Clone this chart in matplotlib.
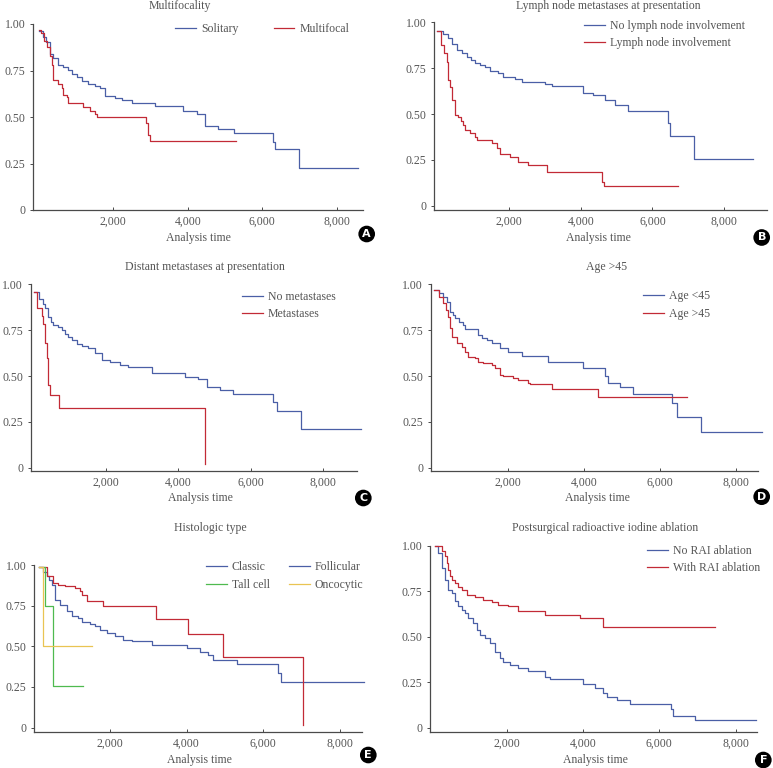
import matplotlib
matplotlib.use("Agg")
import matplotlib.pyplot as plt
from matplotlib.lines import Line2D
from matplotlib.ticker import FuncFormatter

plt.rcParams["font.family"] = ["Liberation Serif", "DejaVu Serif"]
plt.rcParams["font.size"] = 8.5

BLUE = "#4a5fa6"
RED = "#c22a36"
GREEN = "#4fba4f"
YELLOW = "#e9c452"
TXT = "#555555"
AX = "#4a4a4a"

# ---- data: Kaplan-Meier steps (time, survival after that time) ----
# A  Multifocality
solitary_t = [0, 117, 200, 296, 310, 386, 520, 655, 789, 879, 1013, 1148, 1327, 1507, 1650, 1776,
              2045, 2224, 2493, 3121, 3883, 4242, 4466, 4825, 5229, 6287, 6350, 6978, 8574]
solitary_s = [0.96, 0.93, 0.905, 0.887, 0.84, 0.815, 0.78, 0.77, 0.753, 0.73, 0.717, 0.695, 0.68,
              0.667, 0.655, 0.613, 0.60, 0.59, 0.573, 0.559, 0.534, 0.516, 0.452, 0.435, 0.416,
              0.367, 0.326, 0.224, 0.224]
multifocal_t = [0, 60, 130, 206, 296, 359, 386, 520, 610, 655, 744, 789, 1013, 1193, 1372, 1507,
                1552, 2870, 2924, 2942, 2987, 5291]
multifocal_s = [0.968, 0.95, 0.91, 0.878, 0.828, 0.78, 0.70, 0.68, 0.654, 0.618, 0.606, 0.577,
                0.573, 0.556, 0.534, 0.516, 0.502, 0.466, 0.462, 0.403, 0.371, 0.371]

# B  Lymph node metastases
no_ln_t = [0, 150, 307, 420, 540, 700, 819, 940, 1051, 1200, 1330, 1470, 1702, 1842, 2167, 2353,
           3005, 3191, 4056, 4353, 4679, 4958, 5330, 6428, 6493, 7163, 8800]
no_ln_s = [0.955, 0.935, 0.913, 0.88, 0.849, 0.835, 0.81, 0.795, 0.776, 0.765, 0.758, 0.735,
           0.722, 0.704, 0.689, 0.676, 0.664, 0.653, 0.616, 0.604, 0.576, 0.549, 0.516, 0.453,
           0.38, 0.253, 0.253]
ln_t = [0, 102, 195, 260, 307, 353, 400, 493, 586, 650, 726, 772, 912, 1051, 1098, 1516, 1656,
        1749, 2028, 2260, 2540, 3051, 4605, 4651, 6707]
ln_s = [0.955, 0.876, 0.831, 0.785, 0.685, 0.649, 0.576, 0.495, 0.482, 0.46, 0.44, 0.413, 0.395,
        0.376, 0.358, 0.34, 0.313, 0.282, 0.264, 0.24, 0.222, 0.185, 0.131, 0.107, 0.107]

# C  Distant metastases
no_met_t = [0, 150, 250, 313, 406, 470, 544, 660, 774, 860, 959, 1051, 1200, 1327, 1512, 1696,
            1880, 2111, 2387, 2618, 3263, 4184, 4553, 4783, 5152, 5521, 6608, 6719, 7382, 9051]
no_met_s = [0.96, 0.92, 0.89, 0.869, 0.824, 0.795, 0.778, 0.765, 0.751, 0.73, 0.715, 0.696,
            0.675, 0.664, 0.651, 0.627, 0.587, 0.578, 0.56, 0.551, 0.515, 0.493, 0.482, 0.442,
            0.424, 0.402, 0.36, 0.309, 0.209, 0.209]
met_t = [0, 101, 221, 267, 313, 359, 387, 406, 452, 710, 4737]
met_s = [0.96, 0.869, 0.827, 0.784, 0.682, 0.596, 0.487, 0.451, 0.396, 0.324, 0.018]

# D  Age
young_t = [50, 200, 307, 395, 482, 550, 614, 720, 833, 877, 1228, 1316, 1450, 1579, 1798, 2018,
           2368, 3053, 3991, 4561, 4649, 4956, 5307, 6333, 6447, 7079, 8684]
young_s = [0.969, 0.95, 0.933, 0.905, 0.851, 0.83, 0.815, 0.795, 0.778, 0.755, 0.724, 0.705,
           0.696, 0.678, 0.651, 0.633, 0.609, 0.578, 0.542, 0.50, 0.46, 0.438, 0.402, 0.351,
           0.278, 0.196, 0.196]
old_t = [50, 180, 307, 380, 439, 482, 526, 658, 789, 877, 965, 1140, 1228, 1360, 1579, 1667, 1798,
         1886, 2149, 2281, 2544, 2588, 3175, 4368, 6711]
old_s = [0.969, 0.93, 0.896, 0.86, 0.824, 0.76, 0.715, 0.678, 0.66, 0.633, 0.605, 0.596, 0.578,
         0.569, 0.56, 0.542, 0.505, 0.50, 0.487, 0.478, 0.464, 0.455, 0.427, 0.387, 0.387]

# E  Histologic type
classic_t = [160, 250, 348, 420, 478, 565, 696, 870, 1000, 1174, 1261, 1478, 1609, 1739, 1913,
             2130, 2348, 2565, 3087, 4000, 4348, 4565, 4696, 5304, 6391, 6452, 8635]
classic_s = [0.986, 0.96, 0.93, 0.905, 0.879, 0.786, 0.756, 0.719, 0.684, 0.674, 0.649, 0.637,
             0.622, 0.602, 0.581, 0.561, 0.54, 0.53, 0.509, 0.489, 0.468, 0.448, 0.417, 0.39,
             0.339, 0.283, 0.283]
follicular_t = [160, 348, 522, 652, 826, 1087, 1217, 1261, 1409, 1809, 3200, 4026, 4939, 7043]
follicular_s = [0.986, 0.93, 0.889, 0.879, 0.869, 0.858, 0.838, 0.817, 0.776, 0.745, 0.667, 0.575,
                0.433, 0.016]
tall_t = [160, 304, 522, 1287]
tall_s = [0.986, 0.745, 0.253, 0.253]
onco_t = [160, 261, 1522]
onco_s = [0.986, 0.505, 0.505]

# F  Radioactive iodine ablation
no_rai_t = [120, 210, 297, 384, 472, 559, 646, 734, 820, 908, 996, 1127, 1214, 1301, 1432, 1563,
            1694, 1825, 1913, 2087, 2306, 2568, 3004, 3135, 3991, 4314, 4533, 4620, 4882, 5231,
            6306, 6367, 6943, 8533]
no_rai_s = [0.996, 0.96, 0.877, 0.813, 0.758, 0.739, 0.694, 0.666, 0.645, 0.629, 0.602, 0.574,
            0.538, 0.51, 0.492, 0.464, 0.418, 0.382, 0.363, 0.345, 0.33, 0.314, 0.281, 0.268,
            0.239, 0.22, 0.189, 0.171, 0.152, 0.128, 0.103, 0.066, 0.042, 0.042]
rai_t = [120, 297, 384, 428, 472, 515, 580, 646, 730, 821, 952, 1170, 1389, 1607, 1782, 2044,
         2306, 3004, 3921, 4533, 7459]
rai_s = [0.996, 0.969, 0.941, 0.905, 0.868, 0.831, 0.81, 0.794, 0.775, 0.758, 0.73, 0.716, 0.703,
         0.69, 0.675, 0.666, 0.642, 0.62, 0.602, 0.556, 0.556]

x_ticks = [2000, 4000, 6000, 8000]
y_ticks = [0, 0.25, 0.5, 0.75, 1.0]
y_ticklabels = ["0", "0.25", "0.50", "0.75", "1.00"]

W, H = 773, 768
fig = plt.figure(figsize=(W / 100, H / 100), dpi=100, facecolor="white")


def px(x, y):
    return x / W, 1 - y / H


def make_axes(left, top, right, bottom, xlim, ylim):
    ax = fig.add_axes([left / W, 1 - bottom / H, (right - left) / W, (bottom - top) / H])
    ax.set_xlim(*xlim)
    ax.set_ylim(*ylim)
    for s in ("top", "right"):
        ax.spines[s].set_visible(False)
    for s in ("left", "bottom"):
        ax.spines[s].set_color(AX)
        ax.spines[s].set_linewidth(0.9)
    ax.set_xticks(x_ticks)
    ax.xaxis.set_major_formatter(FuncFormatter(lambda v, p: f"{int(v):,}"))
    ax.set_yticks(y_ticks)
    ax.set_yticklabels(y_ticklabels)
    ax.tick_params(axis="x", direction="in", length=2.5, width=0.7, color=AX, pad=4,
                   labelcolor=TXT, labelsize=8.5)
    ax.tick_params(axis="y", direction="out", length=2.5, width=0.7, color=AX, pad=3,
                   labelcolor=TXT, labelsize=8.5)
    return ax


def km(ax, t, s, color, label=None):
    (ln,) = ax.step(t, s, where="post", color=color, lw=0.9, label=label, clip_on=False)
    return ln


def deco(title, tpos, xlpos, letter, cpos):
    fig.text(*px(*tpos), title, ha="center", va="center", color=TXT, fontsize=8.5)
    fig.text(*px(*xlpos), "Analysis time", ha="center", va="center", color=TXT, fontsize=8.5)
    fig.text(*px(*cpos), letter, ha="center", va="center", color="white", fontsize=8,
             fontweight="bold", family="DejaVu Sans",
             bbox=dict(boxstyle="circle,pad=0.3", fc="black", ec="none"))


def legend(ax, handles, x, y, ncol=1, colsp=2.0):
    ax.legend(handles=handles, loc="upper left", bbox_to_anchor=px(x, y),
              bbox_transform=fig.transFigure, frameon=False, ncol=ncol, handlelength=1.75,
              handletextpad=0.45, borderpad=0, borderaxespad=0, labelspacing=0.45,
              columnspacing=colsp, labelcolor=TXT, fontsize=8.5)


# A
ax = make_axes(33.3, 24, 362.7, 210, (-150, 8700), (0, 1.0))
h1 = km(ax, solitary_t, solitary_s, BLUE, "Solitary")
h2 = km(ax, multifocal_t, multifocal_s, RED, "Multifocal")
legend(ax, [h1, h2], 175, 23, ncol=2, colsp=3.0)
deco("Multifocality", (180, 6), (198, 238), "A", (366.7, 234))

# B
ax = make_axes(434.3, 22.3, 766.7, 210, (-85, 9190), (-0.023, 1.0))
h1 = km(ax, no_ln_t, no_ln_s, BLUE, "No lymph node involvement")
h2 = km(ax, ln_t, ln_s, RED, "Lymph node involvement")
legend(ax, [h1, h2], 584, 20)
deco("Lymph node metastases at presentation", (608, 6), (598, 238), "B", (761.7, 237.5))

# C
ax = make_axes(30.7, 284.3, 356.7, 470.7, (-83, 8931), (-0.016, 1.0))
h1 = km(ax, no_met_t, no_met_s, BLUE, "No metastases")
h2 = km(ax, met_t, met_s, RED, "Metastases")
legend(ax, [h1, h2], 242, 291)
deco("Distant metastases at presentation", (205, 267), (200, 498), "C", (363.3, 498))

# D
ax = make_axes(430.7, 284.3, 757.7, 470.7, (-26, 8579), (-0.016, 1.0))
h1 = km(ax, young_t, young_s, BLUE, "Age <45")
h2 = km(ax, old_t, old_s, RED, "Age >45")
legend(ax, [h1, h2], 643, 290.5)
deco("Age >45", (607, 267), (597, 498), "D", (761.7, 496.7))

# E
ax = make_axes(34.3, 565, 361.7, 731.7, (26, 8565), (-0.025, 1.0))
km(ax, classic_t, classic_s, BLUE)
km(ax, follicular_t, follicular_s, RED)
km(ax, tall_t, tall_s, GREEN)
km(ax, onco_t, onco_s, YELLOW)
proxies = [Line2D([], [], color=BLUE, lw=0.9, label="Classic"),
           Line2D([], [], color=GREEN, lw=0.9, label="Tall cell"),
           Line2D([], [], color=BLUE, lw=0.9, label="Follicular"),
           Line2D([], [], color=YELLOW, lw=0.9, label="Oncocytic")]
legend(ax, proxies, 206, 561.5, ncol=2, colsp=1.6)
deco("Histologic type", (210, 528), (199, 760), "E", (368.3, 755))

# F
ax = make_axes(430, 545.7, 756.7, 731.7, (-9, 8550), (-0.022, 1.0))
h1 = km(ax, no_rai_t, no_rai_s, BLUE, "No RAI ablation")
h2 = km(ax, rai_t, rai_s, RED, "With RAI ablation")
legend(ax, [h1, h2], 647, 545)
deco("Postsurgical radioactive iodine ablation", (605, 528), (595, 760), "F", (763.3, 760))

fig.savefig("out.png", dpi=100, facecolor="white")
